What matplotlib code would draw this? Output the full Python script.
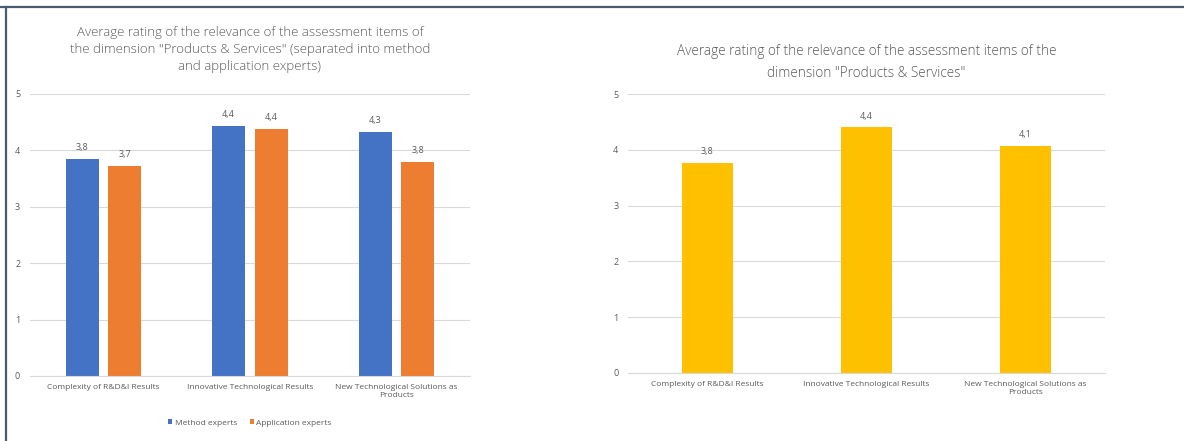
import matplotlib.pyplot as plt
from matplotlib.lines import Line2D
import numpy as np

plt.rcParams['font.family'] = ['Open Sans', 'DejaVu Sans']

categorias = ["Complexity of R&D&I Results", "Innovative Technological Results",
              "New Technological Solutions as\nProducts"]
metodo = [3.84, 4.43, 4.33]
aplicacion = [3.72, 4.38, 3.79]
total = [3.76, 4.40, 4.07]

etiq_metodo = ["3,8", "4,4", "4,3"]
etiq_aplic = ["3,7", "4,4", "3,8"]
etiq_total = ["3,8", "4,4", "4,1"]

titulo_izq = ("Average rating of the relevance of the assessment items of\n"
              "the dimension \"Products & Services\" (separated into method\n"
              "and application experts)")
titulo_der = ("Average rating of the relevance of the assessment items of the\n"
              "dimension \"Products & Services\"")

gris = '#595959'
rejilla = '#D9D9D9'
azul = '#4472C4'
naranja = '#ED7D31'
amarillo = '#FFC000'


def estilo(ax):
    ax.set_xlim(-0.5, 2.5)
    ax.set_ylim(0, 5)
    ax.set_yticks(range(6))
    ax.grid(axis='y', color=rejilla, linewidth=0.8)
    ax.set_axisbelow(True)
    for s in ['top', 'right', 'left']:
        ax.spines[s].set_visible(False)
    ax.spines['bottom'].set_color(rejilla)
    ax.tick_params(axis='both', length=0, colors=gris, labelsize=6.5)
    ax.tick_params(axis='x', pad=6)
    ax.tick_params(axis='y', pad=7)
    ax.set_xticks(range(3))
    ax.set_xticklabels(categorias, fontsize=6, color=gris, linespacing=1.15)


fig = plt.figure(figsize=(11.84, 4.41), dpi=100)

# grafico izquierdo
ax1 = fig.add_axes([0.0253, 0.1474, 0.3716, 0.6395])
estilo(ax1)
x = np.arange(3)
w = 0.225
b1 = ax1.bar(x - 0.145, metodo, width=w, color=azul, label='Method experts')
b2 = ax1.bar(x + 0.145, aplicacion, width=w, color=naranja, label='Application experts')
ax1.bar_label(b1, labels=etiq_metodo, padding=5, fontsize=6.5, color=gris)
ax1.bar_label(b2, labels=etiq_aplic, padding=5, fontsize=6.5, color=gris)
ax1.set_title(titulo_izq, fontsize=9.5, color=gris, linespacing=1.4, pad=17,
              fontweight='light')
ax1.legend(loc='center', bbox_to_anchor=(0.5, -0.167), ncol=2, frameon=False,
           fontsize=6, labelcolor=gris, handlelength=0.5, handleheight=0.5,
           handletextpad=0.3, columnspacing=1.5)

# grafico derecho
ax2 = fig.add_axes([0.5304, 0.1542, 0.4029, 0.6326])
estilo(ax2)
b3 = ax2.bar(x, total, width=0.315, color=amarillo)
ax2.bar_label(b3, labels=etiq_total, padding=5, fontsize=6.5, color=gris)
ax2.set_title(titulo_der, fontsize=9.8, color=gris, linespacing=1.7, pad=12,
              fontweight='light')

# marco
fig.add_artist(Line2D([0, 1], [1 - 7 / 441, 1 - 7 / 441], transform=fig.transFigure,
                      color='#4a5a70', linewidth=1.6))
fig.add_artist(Line2D([6 / 1184, 6 / 1184], [0, 1 - 7 / 441], transform=fig.transFigure,
                      color='#4a5a70', linewidth=1.6))

fig.savefig('out.png', dpi=100)
